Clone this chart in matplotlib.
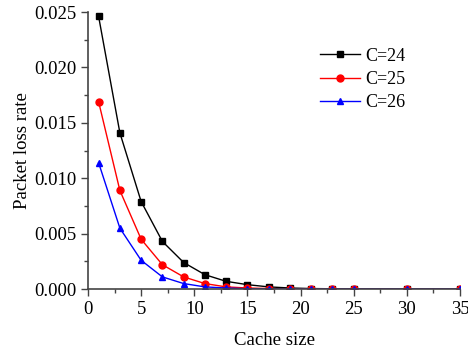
import matplotlib
matplotlib.use('Agg')
import matplotlib.pyplot as plt
from matplotlib.ticker import MultipleLocator

plt.rcParams['font.family'] = ['Liberation Serif', 'DejaVu Serif']

# Cache size (x) and packet loss rate for each C
cache_size = [1, 3, 5, 7, 9, 11, 13, 15, 17, 19, 21, 23, 25, 30, 35]
loss_c24 = [0.0246, 0.0141, 0.0079, 0.0043, 0.0024, 0.0013, 0.0007, 0.0004,
            0.0002, 0.0001, 0.00005, 0.00003, 0.00002, 0.0, 0.0]
loss_c25 = [0.0169, 0.0089, 0.0045, 0.0022, 0.0011, 0.0005, 0.0002, 0.0001,
            0.00005, 0.00002, 0.00001, 0.0, 0.0, 0.0, 0.0]
loss_c26 = [0.0114, 0.0055, 0.0026, 0.0011, 0.0005, 0.0002, 0.0001, 0.00003,
            0.00001, 0.0, 0.0, 0.0, 0.0, 0.0, 0.0]

fig = plt.figure(figsize=(4.68, 3.53), dpi=100)
ax = fig.add_axes([0.188, 0.181, 0.795, 0.785])

ax.plot(cache_size, loss_c24, color='black', marker='s', markersize=5, linewidth=1, label='C=24')
ax.plot(cache_size, loss_c25, color='red', marker='o', markersize=5, linewidth=1, label='C=25')
ax.plot(cache_size, loss_c26, color='blue', marker='^', markersize=5, linewidth=1, label='C=26')

ax.set_xlim(0, 35)
ax.set_ylim(0, 0.025)
ax.xaxis.set_major_locator(MultipleLocator(5))
ax.xaxis.set_minor_locator(MultipleLocator(2.5))
ax.yaxis.set_major_locator(MultipleLocator(0.005))
ax.yaxis.set_minor_locator(MultipleLocator(0.0025))
ax.yaxis.set_major_formatter(matplotlib.ticker.FormatStrFormatter('%.3f'))

for s in ['top', 'right']:
    ax.spines[s].set_visible(False)
for s in ['left', 'bottom']:
    ax.spines[s].set_color('#444444')
    ax.spines[s].set_linewidth(1.2)

ax.tick_params(which='major', direction='out', length=5, width=1, labelsize=13.5, colors='#444444', labelcolor='black')
ax.tick_params(which='minor', direction='out', length=3, width=1, colors='#444444')

ax.set_xlabel('Cache size', fontsize=13.5, labelpad=10)
ax.set_ylabel('Packet loss rate', fontsize=13.5, labelpad=2)

ax.legend(loc='upper left', bbox_to_anchor=(0.58, 0.93), frameon=False, fontsize=13,
          handlelength=2.2, handletextpad=0.3, labelspacing=0.35)

plt.savefig('out.png', dpi=100)
